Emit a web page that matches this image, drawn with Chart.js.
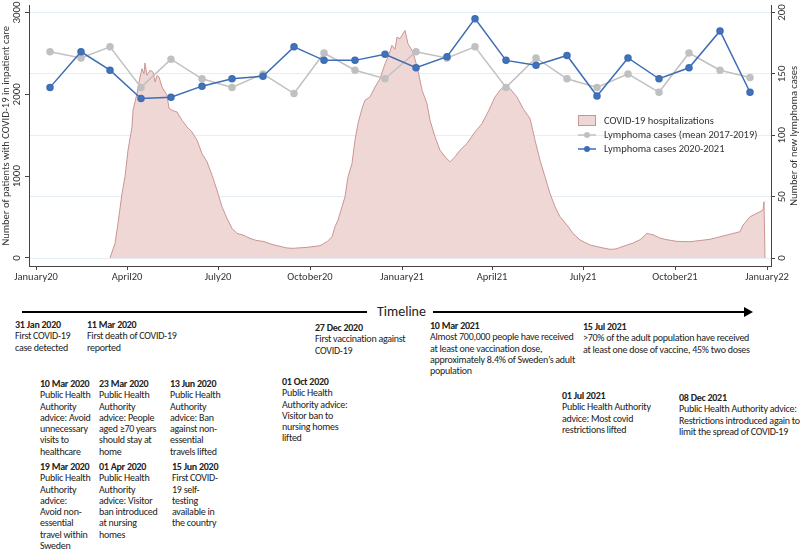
<!DOCTYPE html>
<html>
<head>
<meta charset="utf-8">
<script src="https://cdn.jsdelivr.net/npm/chart.js@4.4.1/dist/chart.umd.min.js"></script>
<style>
  html, body { margin: 0; padding: 0; background: #fff; }
  body { width: 800px; height: 550px; position: relative; overflow: hidden;
         font-family: Carlito, Lato, "Open Sans", sans-serif; color: #222; }
  #wrap { position: absolute; left: 0; top: 0; width: 800px; height: 285px; }
  .ev { position: absolute; font-size: 10px; letter-spacing: -0.25px; line-height: 11.3px; white-space: nowrap; }
  .ev b { font-weight: bold; }
  .tl { position: absolute; height: 2px; background: #000; top: 311px; }
  #tltext { position: absolute; left: 377px; top: 303px; font-size: 14px; }
  #arrowhead { position: absolute; left: 744px; top: 307px; width: 0; height: 0;
               border-top: 5px solid transparent; border-bottom: 5px solid transparent;
               border-left: 9px solid #000; }
</style>
</head>
<body>
<div id="wrap"><canvas id="myChart" width="800" height="285"></canvas></div>

<div class="tl" style="left:22px;width:345px"></div>
<div id="tltext">Timeline</div>
<div class="tl" style="left:433px;width:312px"></div>
<div id="arrowhead"></div>

<div class="ev" style="left:15px;top:319px"><b>31 Jan 2020</b><br>First COVID-19<br>case detected</div>
<div class="ev" style="left:87px;top:319px"><b>11 Mar 2020</b><br>First death of COVID-19<br>reported</div>
<div class="ev" style="left:315px;top:322px"><b>27 Dec 2020</b><br>First vaccination against<br>COVID-19</div>
<div class="ev" style="left:430px;top:320px"><b>10 Mar 2021</b><br>Almost 700,000 people have received<br>at least one vaccination dose,<br>approximately 8.4% of Sweden’s adult<br>population</div>
<div class="ev" style="left:583px;top:321px"><b>15 Jul 2021</b><br>&gt;70% of the adult population have received<br>at least one dose of vaccine, 45% two doses</div>

<div class="ev" style="left:40px;top:378px"><b>10 Mar 2020</b><br>Public Health<br>Authority<br>advice: Avoid<br>unnecessary<br>visits to<br>healthcare</div>
<div class="ev" style="left:99px;top:378px"><b>23 Mar 2020</b><br>Public Health<br>Authority<br>advice: People<br>aged ≥70 years<br>should stay at<br>home</div>
<div class="ev" style="left:170px;top:378px"><b>13 Jun 2020</b><br>Public Health<br>Authority<br>advice: Ban<br>against non-<br>essential<br>travels lifted</div>
<div class="ev" style="left:282px;top:376px"><b>01 Oct 2020</b><br>Public Health<br>Authority advice:<br>Visitor ban to<br>nursing homes<br>lifted</div>

<div class="ev" style="left:40px;top:461px"><b>19 Mar 2020</b><br>Public Health<br>Authority<br>advice:<br>Avoid non-<br>essential<br>travel within<br>Sweden</div>
<div class="ev" style="left:99px;top:461px"><b>01 Apr 2020</b><br>Public Health<br>Authority<br>advice: Visitor<br>ban introduced<br>at nursing<br>homes</div>
<div class="ev" style="left:172px;top:461px"><b>15 Jun 2020</b><br>First COVID-<br>19 self-<br>testing<br>available in<br>the country</div>

<div class="ev" style="left:562px;top:390px"><b>01 Jul 2021</b><br>Public Health Authority<br>advice: Most covid<br>restrictions lifted</div>
<div class="ev" style="left:679px;top:392px"><b>08 Dec 2021</b><br>Public Health Authority advice:<br>Restrictions introduced again to<br>limit the spread of COVID-19</div>

<script>
// x axis: days since 1 Jan 2020
const tickDates = ["2020-01-01", "2020-04-01", "2020-07-01", "2020-10-01", "2021-01-01",
  "2021-04-01", "2021-07-01", "2021-10-01", "2022-01-01"];
const tickLabels = ["January20", "April20", "July20", "October20", "January21",
  "April21", "July21", "October21", "January22"];

const months = ["2020-01", "2020-02", "2020-03", "2020-04", "2020-05", "2020-06",
  "2020-07", "2020-08", "2020-09", "2020-10", "2020-11", "2020-12",
  "2021-01", "2021-02", "2021-03", "2021-04", "2021-05", "2021-06",
  "2021-07", "2021-08", "2021-09", "2021-10", "2021-11", "2021-12"];

const lymphomaMean = [168, 163, 172, 139, 162, 146, 139, 150, 134, 167, 153, 146,
  168, 163, 172, 139, 163, 146, 139, 150, 135, 167, 153, 147];
const lymphoma2020 = [139, 168, 153, 130, 131, 140, 146, 148, 172, 161, 161, 166,
  155, 164, 195, 161, 157, 165, 132, 163, 146, 155, 185, 135];

// COVID-19 hospitalizations, day since 1 Jan 2020 and patients in care
const covidDays = [74, 79, 82, 86, 89, 92, 96, 97, 101, 104, 106, 108, 109, 111, 114, 117, 119, 121,
  123, 126, 131, 133, 136, 141, 146, 151, 156, 161, 166, 171, 176, 181, 186, 191, 196, 201, 207,
  214, 220, 227, 237, 251, 257, 271, 284, 291, 296, 299, 302, 306, 309, 312, 316, 319, 322, 326,
  329, 334, 339, 344, 349, 352, 356, 359, 361, 364, 369, 372, 377, 382, 386, 391, 394, 399, 404,
  409, 414, 419, 424, 431, 439, 446, 452, 459, 464, 469, 474, 481, 487, 494, 499, 504, 509, 514,
  519, 524, 531, 537, 544, 554, 564, 574, 580, 587, 597, 604, 611, 617, 624, 631, 641, 654, 674,
  694, 704, 707, 714, 724, 727, 728, 729];
const covidValues = [0, 179, 423, 789, 992, 1317, 1601, 1805, 2008, 2211, 2313, 2250, 2382, 2232,
  2293, 2272, 2150, 2230, 2211, 2089, 1988, 1830, 1805, 1784, 1683, 1601, 1540, 1439, 1276, 1175,
  1012, 829, 626, 484, 362, 301, 280, 240, 215, 203, 162, 122, 118, 130, 150, 199, 260, 382, 463,
  626, 748, 992, 1155, 1439, 1643, 1826, 1927, 1967, 2089, 2191, 2374, 2455, 2598, 2550, 2699,
  2679, 2780, 2618, 2516, 2293, 2049, 1887, 1683, 1480, 1317, 1236, 1175, 1236, 1317, 1400, 1540,
  1643, 1784, 1967, 2049, 2110, 2069, 1967, 1826, 1704, 1439, 1195, 992, 789, 626, 504, 402, 301,
  220, 159, 130, 106, 110, 142, 182, 223, 300, 284, 243, 223, 203, 199, 228, 290, 321, 402, 504,
  565, 585, 687, 0];

const leftTicks = [0, 1000, 2000, 3000];
const rightTicks = [0, 50, 100, 150, 200];

const FONT = "Carlito, Lato, 'Open Sans', sans-serif";
const TEXT = "#333";
const day0 = Date.UTC(2020, 0, 1);
function dayOf(s) {
  const p = s.split("-").map(Number);
  return Math.round((Date.UTC(p[0], p[1] - 1, p[2] || 15) - day0) / 86400000);
}
const tickDays = tickDates.map(dayOf);
const monthDays = months.map(dayOf);

const pink = "#efd7d6";
const pinkLine = "#c99594";
const grey = "#c0c0c0";
const blue = "#3d6db5";

const sideLabels = {
  id: "sideLabels",
  afterDraw(chart) {
    const ctx = chart.ctx;
    const a = chart.chartArea;
    const yL = chart.scales.yL;
    const yR = chart.scales.yR;
    ctx.save();
    ctx.fillStyle = TEXT;
    ctx.textAlign = "center";
    ctx.textBaseline = "middle";
    ctx.font = "11px " + FONT;
    leftTicks.forEach((v) => {
      const y = yL.getPixelForValue(v);
      ctx.save(); ctx.translate(17, y); ctx.rotate(-Math.PI / 2);
      ctx.fillText(String(v), 0, 0); ctx.restore();
    });
    rightTicks.forEach((v) => {
      const y = yR.getPixelForValue(v);
      ctx.save(); ctx.translate(782, y); ctx.rotate(-Math.PI / 2);
      ctx.fillText(String(v), 0, 0); ctx.restore();
    });
    const mid = (a.top + a.bottom) / 2;
    ctx.font = "10.5px " + FONT;
    ctx.save(); ctx.translate(6, mid); ctx.rotate(-Math.PI / 2);
    ctx.fillText("Number of patients with COVID-19 in inpatient care", 0, 0); ctx.restore();
    ctx.save(); ctx.translate(794, mid); ctx.rotate(-Math.PI / 2);
    ctx.fillText("Number of new lymphoma cases", 0, 0); ctx.restore();

    // legend
    ctx.textAlign = "left";
    ctx.font = "10.5px " + FONT;
    ctx.fillStyle = pink; ctx.strokeStyle = pinkLine; ctx.lineWidth = 1;
    ctx.fillRect(578, 115.5, 18, 10); ctx.strokeRect(578.5, 115.5, 17, 10);
    ctx.fillStyle = TEXT;
    ctx.fillText("COVID-19 hospitalizations", 604, 121);
    [[grey, 135, "Lymphoma cases (mean 2017-2019)"], [blue, 149, "Lymphoma cases 2020-2021"]].forEach((r) => {
      ctx.strokeStyle = r[0]; ctx.lineWidth = 1.5;
      ctx.beginPath(); ctx.moveTo(578, r[1]); ctx.lineTo(596, r[1]); ctx.stroke();
      ctx.fillStyle = r[0];
      ctx.beginPath(); ctx.arc(587, r[1], 3, 0, Math.PI * 2); ctx.fill();
      ctx.fillStyle = TEXT;
      ctx.fillText(r[2], 604, r[1] + 0.5);
    });
    ctx.restore();
  },
};

new Chart(document.getElementById("myChart"), {
  type: "line",
  data: {
    datasets: [
      {
        label: "Lymphoma cases 2020-2021",
        data: monthDays.map((d, i) => ({ x: d, y: lymphoma2020[i] })),
        yAxisID: "yR",
        borderColor: blue,
        backgroundColor: blue,
        pointBackgroundColor: "#4372bb",
        pointBorderColor: blue,
        borderWidth: 1.5,
        pointRadius: 3,
        order: 1,
      },
      {
        label: "Lymphoma cases (mean 2017-2019)",
        data: monthDays.map((d, i) => ({ x: d, y: lymphomaMean[i] })),
        yAxisID: "yR",
        borderColor: grey,
        backgroundColor: grey,
        pointBackgroundColor: grey,
        pointBorderColor: grey,
        borderWidth: 1.5,
        pointRadius: 3,
        order: 2,
      },
      {
        label: "COVID-19 hospitalizations",
        data: covidDays.map((d, i) => ({ x: d, y: covidValues[i] })),
        yAxisID: "yL",
        borderColor: pinkLine,
        backgroundColor: pink,
        borderWidth: 1,
        pointRadius: 0,
        fill: "origin",
        order: 3,
      },
    ],
  },
  options: {
    responsive: false,
    animation: false,
    layout: { padding: { top: 5, left: 0, right: 0, bottom: 0 } },
    plugins: { legend: { display: false }, tooltip: { enabled: false } },
    scales: {
      x: {
        type: "linear",
        min: -7,
        max: 735,
        afterBuildTicks: (s) => { s.ticks = tickDays.map((v) => ({ value: v })); },
        afterFit: (s) => { s.height = 19; },
        ticks: {
          autoSkip: false,
          maxRotation: 0,
          padding: 1,
          color: TEXT,
          font: { family: FONT, size: 10.5 },
          callback: (v) => tickLabels[tickDays.indexOf(v)],
        },
        grid: { drawOnChartArea: false, tickLength: 4, tickColor: "#444" },
        border: { color: "#444", width: 1 },
      },
      yL: {
        position: "left",
        min: -98,
        max: 3085,
        afterBuildTicks: (s) => { s.ticks = leftTicks.map((v) => ({ value: v })); },
        afterFit: (s) => { s.width = 29; },
        ticks: { display: false },
        grid: { drawOnChartArea: false, tickLength: 4, tickColor: "#444" },
        border: { color: "#444", width: 1 },
      },
      yR: {
        position: "right",
        min: -6.5,
        max: 205.7,
        afterBuildTicks: (s) => { s.ticks = rightTicks.map((v) => ({ value: v })); },
        afterFit: (s) => { s.width = 29; },
        ticks: { display: false },
        grid: { color: "#e6eef5", tickLength: 4, tickColor: "#444" },
        border: { color: "#444", width: 1 },
      },
    },
  },
  plugins: [sideLabels],
});
</script>
</body>
</html>
